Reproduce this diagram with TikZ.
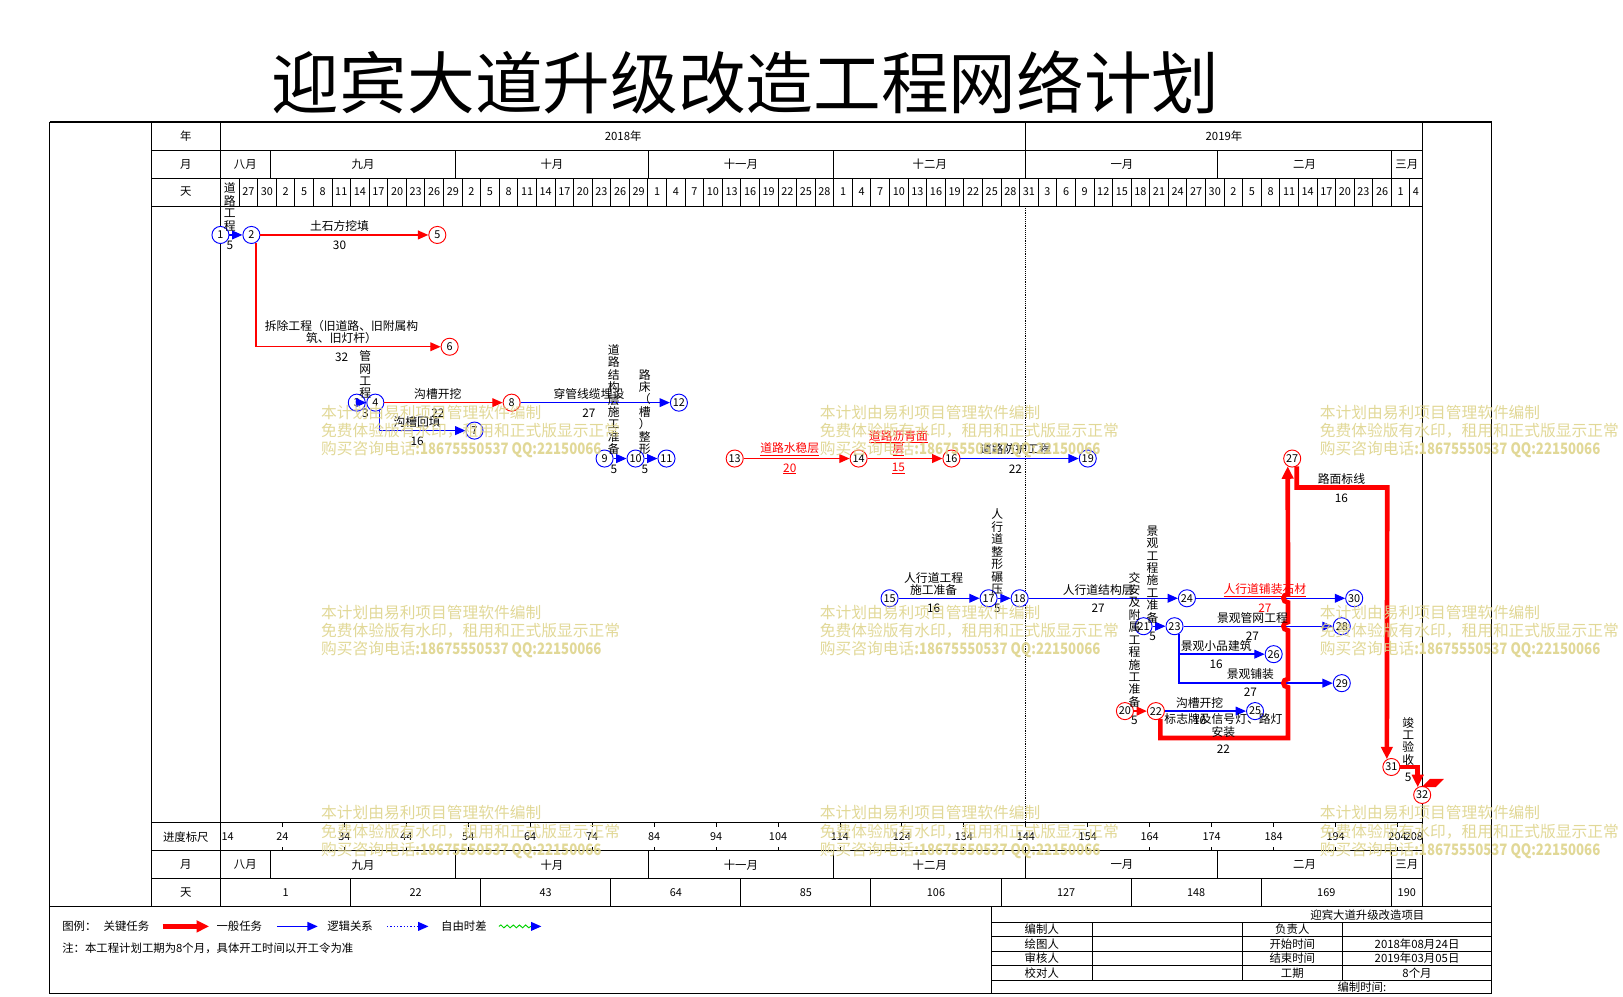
\documentclass[tikz,border=0pt]{standalone}
\usepackage{fontspec}
\usepackage{graphicx}
\setmainfont{Noto Sans CJK SC}
\usetikzlibrary{arrows.meta,decorations.pathmorphing}
\definecolor{wmc}{RGB}{222,212,140}
\definecolor{bb}{RGB}{0,0,255}
\definecolor{rr}{RGB}{255,0,0}
\definecolor{gg}{RGB}{0,210,0}
\tikzset{
  xgl/.style={line width=0.9pt},
  xhd/.style={inner sep=0pt,font=\fontsize{11}{12}\selectfont},
  xnum/.style={inner sep=0pt,font=\fontsize{10.5}{12}\selectfont},
  xnd/.style={circle,draw,minimum size=16.5pt,inner sep=0pt,fill=white,line width=0.9pt,font=\fontsize{10.5}{12}\selectfont},
  bnode/.style={xnd,draw=bb},
  rnode/.style={xnd,draw=rr},
  atip/.style={-{Triangle[length=10pt,width=8.5pt]}},
  bline/.style={draw=bb,line width=1.3pt,atip},
  rline/.style={draw=rr,line width=1.3pt,atip},
  thick red/.style={draw=rr,line width=4.5pt,-{Triangle[length=12pt,width=11pt]}},
  xlab/.style={inner sep=0pt,align=center,font=\fontsize{11.4}{12}\selectfont},
  rlab/.style={xlab,text=rr},
  wmark/.style={inner sep=0pt,anchor=north west,align=left,text=wmc,font=\fontsize{15.2}{17.6}\selectfont},
}
\begin{document}
\begin{tikzpicture}[x=1pt,y=-1pt,font=\fontsize{11.4}{12}\selectfont]
\useasboundingbox (0,0) rectangle (1568,962.3);
% title
\node[inner sep=0pt,font=\fontsize{65.4}{70}\selectfont] (title) at (720.5,80) {迎宾大道升级改造工程网络计划};
% frame and table
\draw[line width=1.2pt] (48,118) rectangle (1441,960);
\draw[line width=2pt] (48,118) -- (1441,118);
\draw[xgl] (146,118) -- (146,876);
\draw[xgl] (213,118) -- (213,876);
\draw[xgl] (1374,118) -- (1374,876);
\foreach \yy in {145,172,199,795,822,849} \draw[xgl] (146,\yy) -- (1374,\yy);
\draw[line width=1.2pt] (48,876) -- (1441,876);
% header labels
\node[xhd] (hy) at (179.5,131.5) {年};
\node[xhd] (hm) at (179.5,158.5) {月};
\node[xhd] (hd) at (179.5,185.5) {天};
\node[xhd] (hr) at (179.5,808.5) {进度标尺};
\node[xhd] (hm2) at (179.5,835.5) {月};
\node[xhd] (hd2) at (179.5,862.5) {天};
% year row
\draw[xgl] (991.1,118) -- (991.1,145);
\node[xhd] (y18) at (602,131.5) {2018年};
\node[xhd] (y19) at (1182.5,131.5) {2019年};
% month rows
\foreach \xx in {260.9,440.4,626.0,805.5,991.1,1176.6,1344.2} {
  \draw[xgl] (\xx,145) -- (\xx,172);
  \draw[xgl] (\xx,822) -- (\xx,849);
}
\foreach \mx/\mt [count=\i] in {237/八月,350.7/九月,533.2/十月,715.8/十一月,898.3/十二月,1083.9/一月,1260.4/二月,1359.1/三月} {
  \node[xhd] (mt\i) at (\mx,158.5) {\mt};
  \node[xhd] (mb\i) at (\mx,835.5) {\mt};
}
% day row
\foreach \k in {1,...,64} \draw[xgl] ({213+17.955*\k},172) -- ++(0,27);
\foreach \lab [count=\k from 0] in {24,27,30,2,5,8,11,14,17,20,23,26,29,2,5,8,11,14,17,20,23,26,29,1,4,7,10,13,16,19,22,25,28,1,4,7,10,13,16,19,22,25,28,31,3,6,9,12,15,18,21,24,27,30,2,5,8,11,14,17,20,23,26,1,4} {
  \ifnum\k>0
    \pgfmathsetmacro\xc{\k==64 ? 1368 : 213+17.955*\k+8.98}
    \node[xnum] (dd\k) at (\xc,185.5) {\lab};
  \fi
}
% bottom day row
\foreach \k in {1,...,9} \draw[xgl] ({213+125.685*\k},849) -- ++(0,27);
\foreach \k [evaluate=\k as \lb using int(1+21*\k)] in {0,...,8}
  \node[xnum] (bd\k) at ({213+125.685*\k+62.84},862.5) {\lb};
\node[xnum] (bd9) at (1359.1,862.5) {190};
% progress ruler
\foreach \u in {24,34,...,204} {
  \draw[xgl] ({213+(\u-14)*5.985},795) -- ++(0,4);
  \draw[xgl] ({213+(\u-14)*5.985},822) -- ++(0,-4);
  \node[xnum] (ru\u) at ({213+(\u-14)*5.985},808.5) {\u};
}
\node[xnum,anchor=west] (ru14) at (214,808.5) {14};
\node[xnum] (ru208) at (1366,808.5) {208};
% today line
\draw[densely dotted,line width=0.8pt] (991.1,199) -- (991.1,795);

% ---------- network nodes ----------
\node[bnode] (n1) at (213,227) {1};
\node[bnode] (n2) at (242.9,227) {2};
\node[rnode] (n5) at (422.5,227) {5};
\node[rnode] (n6) at (434.4,335) {6};
\node[bnode] (n3) at (344.7,389) {3};
\node[bnode] (n4) at (362.6,389) {4};
\node[rnode] (n8) at (494.3,389) {8};
\node[bnode] (n12) at (655.9,389) {12};
\node[bnode] (n7) at (458.4,416) {7};
\node[bnode] (n9) at (584.1,443) {9};
\node[bnode] (n10) at (614,443) {10};
\node[bnode] (n11) at (643.9,443) {11};
\node[rnode] (n13) at (709.8,443) {13};
\node[rnode] (n14) at (829.5,443) {14};
\node[rnode] (n16) at (919.2,443) {16};
\node[bnode] (n19) at (1050.9,443) {19};
\node[rnode] (n27) at (1248.4,443) {27};
\node[bnode] (n15) at (859.4,578) {15};
\node[bnode] (n17) at (955.1,578) {17};
\node[bnode] (n18) at (985.1,578) {18};
\node[bnode] (n24) at (1146.7,578) {24};
\node[bnode] (n30) at (1308.3,578) {30};
\node[bnode] (n21) at (1104.8,605) {21};
\node[bnode] (n23) at (1134.7,605) {23};
\node[bnode] (n28) at (1296.3,605) {28};
\node[bnode] (n26) at (1230.5,632) {26};
\node[bnode] (n29) at (1296.3,660) {29};
\node[rnode] (n20) at (1086.8,687) {20};
\node[rnode] (n22) at (1116.7,687) {22};
\node[bnode] (n25) at (1212.5,687) {25};
\node[rnode] (n31) at (1344.2,741) {31};
\node[rnode] (n32) at (1374,768) {32};

% ---------- edges ----------
\draw[bline] (n1) -- (n2);
\draw[rline] (n2) -- (n5);
\draw[rline] (n2.-60) |- (n6);
\draw[bline] (n3) -- (n4);
\draw[rline] (n4) -- (n8);
\draw[bline] (n4.-60) |- (n7);
\draw[bline] (n8) -- (n12);
\draw[bline] (n9) -- (n10);
\draw[bline] (n10) -- (n11);
\draw[rline] (n13) -- (n14);
\draw[rline] (n14) -- (n16);
\draw[bline] (n16) -- (n19);
\draw[bline] (n15) -- (n17);
\draw[bline] (n17) -- (n18);
\draw[bline] (n18) -- (n24);
\draw[bline] (n24) -- (n30);
\draw[bline] (n21) -- (n23);
\draw[bline] (n23) -- (n28);
\draw[bline] (n23.-60) |- (n26);
\draw[bline] (n23.-60) |- (n29);
\draw[rline,line width=2pt] (n20) -- (n22);
\draw[bline] (n22) -- (n25);
\draw[thick red] (n22.-60) |- (1244.4,713) -- (1244.4,664)
  .. controls (1238.4,664) and (1238.4,656) .. (1244.4,656) -- (1244.4,609)
  .. controls (1238.4,609) and (1238.4,601) .. (1244.4,601) -- (1244.4,582)
  .. controls (1238.4,582) and (1238.4,574) .. (1244.4,574) -- (n27.-120);
\draw[thick red] (n27.-60) |- (1340.2,471) -- (n31.120);
\draw[thick red] (n31.east) -| (n32.120);
\fill[rr] (1381.5,752.5) -- (1395,752.5) -- (1387,760.5) -- (1373.5,760.5) -- cycle;

% ---------- labels ----------
\node[xlab] (l12) at (222,200) {道\\路\\工\\程};
\node[xlab] (t12) at (222,237) {5};
\node[xlab] (l25) at (328,218) {土石方挖填};
\node[xlab] (t25) at (328,237) {30};
\node[xlab] (l26) at (330,321) {拆除工程（旧道路、旧附属构\\筑、旧灯杆）};
\node[xlab] (t26) at (330,345) {32};
\node[xlab] (l34) at (353,362) {管\\网\\工\\程};
\node[xlab] (t34) at (353,399) {3};
\node[xlab] (l48) at (423,381) {沟槽开挖};
\node[xlab] (t48) at (423,399) {22};
\node[xlab] (l47) at (403,408) {沟槽回填};
\node[xlab] (t47) at (403,426) {16};
\node[xlab] (l812) at (569,381) {穿管线缆埋设};
\node[xlab] (t812) at (569,399) {27};
\node[xlab] (l910) at (593,386) {道\\路\\结\\构\\层\\施\\工\\准\\备};
\node[xlab] (t910) at (593,453) {5};
\node[xlab] (l1011) at (623,398) {路\\床\\（\\槽\\）\\整\\形};
\node[xlab] (t1011) at (623,453) {5};
\node[rlab] (l1314) at (763,434) {\underline{道路水稳层}};
\node[rlab] (t1314) at (763,453) {\underline{20}};
\node[rlab] (l1416) at (868,428) {\underline{道路沥青面}\\\underline{层}};
\node[rlab] (t1416) at (868,453) {\underline{15}};
\node[xlab] (l1619) at (981,434) {道路防护工程};
\node[xlab] (t1619) at (981,453) {22};
\node[xlab] (l1517) at (902,564) {人行道工程\\施工准备};
\node[xlab] (t1517) at (902,588) {16};
\node[xlab] (l1718) at (963.5,533) {人\\行\\道\\整\\形\\碾\\压};
\node[xlab] (t1718) at (963.5,588) {5};
\node[xlab] (l1824) at (1061,570) {人行道结构层};
\node[xlab] (t1824) at (1061,588) {27};
\node[rlab] (l2430) at (1222,570) {\underline{人行道铺装石材}};
\node[rlab] (t2430) at (1222,588) {27};
\node[xlab] (l2123) at (1113.5,555) {景\\观\\工\\程\\施\\工\\准\\备};
\node[xlab] (t2123) at (1113.5,615) {5};
\node[xlab] (l2328) at (1210,597) {景观管网工程};
\node[xlab] (t2328) at (1210,615) {27};
\node[xlab] (l2326) at (1175,624) {景观小品建筑};
\node[xlab] (t2326) at (1175,642) {16};
\node[xlab] (l2329) at (1208,651) {景观铺装};
\node[xlab] (t2329) at (1208,669) {27};
\node[xlab] (l2022) at (1096,618) {交\\安\\及\\附\\属\\工\\程\\施\\工\\准\\备};
\node[xlab] (t2022) at (1096,696) {5};
\node[xlab] (l2225) at (1159,679) {沟槽开挖};
\node[xlab] (t2225) at (1159,696) {16};
\node[xlab] (l2227) at (1182,701) {标志牌及信号灯、路灯\\安装};
\node[xlab] (t2227) at (1182,724) {22};
\node[xlab] (l2731) at (1296,463) {路面标线};
\node[xlab] (t2731) at (1296,481) {16};
\node[xlab] (l3132) at (1360.5,716) {竣\\工\\验\\收};
\node[xlab] (t3132) at (1360.5,751) {5};

% ---------- legend ----------
\node[xhd,anchor=west] (lg0) at (60,895) {图例：};
\node[xhd,anchor=west] (lg1) at (100,895) {关键任务};
\coordinate (ka) at (157,895); \coordinate (kb) at (202,895);
\draw[thick red] (ka) -- (kb);
\node[xhd,anchor=west] (lg2) at (209,895) {一般任务};
\coordinate (ga) at (268,895); \coordinate (gb) at (307,895);
\draw[bline] (ga) -- (gb);
\node[xhd,anchor=west] (lg3) at (316,895) {逻辑关系};
\coordinate (da) at (374,895); \coordinate (db) at (414,895);
\draw[draw=bb,line width=1.2pt,dotted,atip] (da) -- (db);
\node[xhd,anchor=west] (lg4) at (426,895) {自由时差};
\coordinate (wa) at (482,895); \coordinate (wb) at (513,895); \coordinate (wc) at (523,895);
\draw[gg,line width=0.9pt,decorate,decoration={snake,amplitude=1.4pt,segment length=6pt}] (wa) -- (wb);
\draw[bline] (wb) -- (wc);
\node[xhd,anchor=west] (note) at (60,916.5) {注：本工程计划工期为8个月，具体开工时间以开工令为准};

% ---------- title block ----------
\draw[xgl] (958,876) -- (958,960);
\foreach \yy in {891,905,919,933,947} \draw[xgl] (958,\yy) -- (1441,\yy);
\foreach \xx in {1055,1200,1297} \draw[xgl] (\xx,891) -- (\xx,947);
\node[xhd] (tb0) at (1321,884) {迎宾大道升级改造项目};
\node[xhd] (tb1) at (1006.5,898) {编制人};
\node[xhd] (tb2) at (1006.5,912) {绘图人};
\node[xhd] (tb3) at (1006.5,926) {审核人};
\node[xhd] (tb4) at (1006.5,940) {校对人};
\node[xhd] (tb5) at (1248.5,898) {负责人};
\node[xhd] (tb6) at (1248.5,912) {开始时间};
\node[xhd] (tb7) at (1248.5,926) {结束时间};
\node[xhd] (tb8) at (1248.5,940) {工期};
\node[xhd] (tb9) at (1369,912) {2018年08月24日};
\node[xhd] (tb10) at (1369,926) {2019年03月05日};
\node[xhd] (tb11) at (1369,940) {8个月};
\node[xhd,anchor=west] (tb12) at (1292,954) {编制时间:};

% ---------- watermarks ----------
\foreach \wx in {310,792,1275} \foreach \wy in {400,593,787}
  \node[wmark,opacity=0.9] (wm-\wx-\wy) at (\wx,\wy-9) {本计划由易利项目管理软件编制\\免费体验版有水印，租用和正式版显示正常\\购买咨询电话\scalebox{0.84}[1]{\textbf{:18675550537 QQ:22150066}}};
\end{tikzpicture}
\end{document}
